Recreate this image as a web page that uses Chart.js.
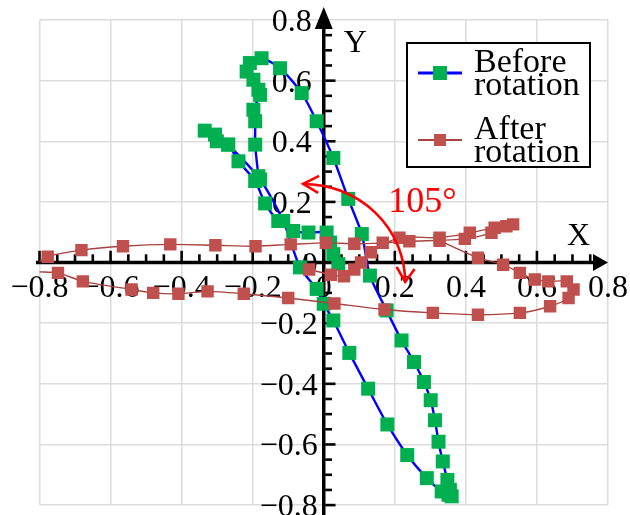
<!DOCTYPE html>
<html>
<head>
<meta charset="utf-8">
<script src="https://cdn.jsdelivr.net/npm/chart.js@4.4.1/dist/chart.umd.min.js"></script>
<style>
  html, body { margin: 0; padding: 0; background: #ffffff; }
  #wrap { width: 630px; height: 515px; }
  canvas { display: block; }
</style>
</head>
<body>
<div id="wrap"><canvas id="chart" width="630" height="515"></canvas></div>
<script>
// Series names (two-line legend entries)
const beforeName = ['Before', 'rotation'];
const afterName = ['After', 'rotation'];

// Trajectory before rotation (in drawing order)
const beforeX = [0.041, 0.027, 0.018, 0.008, -0.043, -0.086, -0.128, -0.165, -0.193, -0.240,
  -0.269, -0.301, -0.335, -0.306, -0.269, -0.179, -0.114, -0.067, -0.020, 0.000,
  0.027, 0.072, 0.125, 0.179, 0.235, 0.290, 0.332, 0.351, 0.360, 0.355,
  0.348, 0.335, 0.323, 0.313, 0.301, 0.282, 0.254, 0.219, 0.177, 0.130,
  0.107, 0.069, 0.027, -0.020, -0.062, -0.123, -0.175, -0.208, -0.217, -0.198,
  -0.184, -0.179, -0.198, -0.193, -0.193, -0.184];
const beforeY = [-0.005, 0.028, 0.066, 0.099, 0.099, 0.104, 0.137, 0.195, 0.269, 0.334,
  0.389, 0.400, 0.435, 0.422, 0.389, 0.274, 0.137, -0.016, -0.087, -0.136,
  -0.191, -0.298, -0.416, -0.534, -0.635, -0.711, -0.755, -0.766, -0.771, -0.750,
  -0.717, -0.656, -0.591, -0.520, -0.454, -0.394, -0.328, -0.257, -0.158, -0.043,
  0.094, 0.210, 0.345, 0.466, 0.559, 0.641, 0.674, 0.658, 0.630, 0.603,
  0.570, 0.553, 0.504, 0.466, 0.389, 0.285];

// Trajectory after rotation (in drawing order); it leaves the window briefly at the far left
const afterX = [-0.041, 0.020, 0.057, 0.086, 0.105, 0.133, 0.213, 0.326, 0.411, 0.481,
  0.533, 0.514, 0.472, 0.397, 0.241, 0.166, 0.086, 0.006, -0.093, -0.192,
  -0.305, -0.432, -0.565, -0.682, -0.777, -0.830, -0.748, -0.678, -0.541, -0.480,
  -0.409, -0.327, -0.225, -0.100, 0.030, 0.171, 0.307, 0.434, 0.552, 0.637,
  0.689, 0.703, 0.684, 0.632, 0.594, 0.552, 0.505, 0.434, 0.326];
const afterY = [-0.023, -0.040, -0.045, -0.023, 0.000, 0.034, 0.082, 0.082, 0.098, 0.115,
  0.126, 0.120, 0.098, 0.078, 0.070, 0.065, 0.062, 0.065, 0.060, 0.054,
  0.057, 0.060, 0.054, 0.041, 0.019, -0.026, -0.034, -0.062, -0.089, -0.100,
  -0.103, -0.095, -0.103, -0.117, -0.135, -0.155, -0.166, -0.172, -0.166, -0.144,
  -0.117, -0.089, -0.062, -0.062, -0.056, -0.034, -0.007, 0.016, 0.072];

// Axis ticks and their labels
const axisTicks = [-0.8, -0.6, -0.4, -0.2, 0, 0.2, 0.4, 0.6, 0.8];
const axisTickLabels = ['\u22120.8', '\u22120.6', '\u22120.4', '\u22120.2', '0', '0.2', '0.4', '0.6', '0.8'];
const xAxisName = 'X';
const yAxisName = 'Y';
const angleText = '105\u00B0';

const SERIF = '"Liberation Serif", "Times New Roman", serif';
const GREEN = '#00B050', BLUE = '#0000FF', BRICK = '#C0504D', BRICK_LINE = '#A8433F';

const toPoints = (xs, ys) => xs.map((v, i) => ({ x: v, y: ys[i] }));
const insideRadius = r => ctx => (ctx.raw && Math.abs(ctx.raw.x) > 0.8 ? 0 : r);

// Axes through the origin, with arrowheads, ticks and numeric labels
const originAxes = {
  id: 'originAxes',
  beforeDatasetsDraw(chart) {
    const { ctx, scales: { x, y } } = chart;
    const ox = x.getPixelForValue(0), oy = y.getPixelForValue(0);
    const xLeft = x.getPixelForValue(-0.81), xTip = x.getPixelForValue(0.8);
    const yTip = y.getPixelForValue(0.8) - 13;
    ctx.save();
    ctx.strokeStyle = '#000';
    ctx.fillStyle = '#000';
    ctx.lineWidth = 3.5;
    ctx.lineCap = 'butt';
    // horizontal axis
    ctx.beginPath();
    ctx.moveTo(xLeft, oy);
    ctx.lineTo(xTip - 14, oy);
    ctx.stroke();
    ctx.beginPath();
    ctx.moveTo(xTip, oy);
    ctx.lineTo(xTip - 15, oy - 8.5);
    ctx.lineTo(xTip - 15, oy + 8.5);
    ctx.closePath();
    ctx.fill();
    // vertical axis
    ctx.beginPath();
    ctx.moveTo(ox, chart.height);
    ctx.lineTo(ox, yTip + 20);
    ctx.stroke();
    ctx.beginPath();
    ctx.moveTo(ox, yTip);
    ctx.lineTo(ox - 9, yTip + 22);
    ctx.lineTo(ox + 9, yTip + 22);
    ctx.closePath();
    ctx.fill();
    // tick marks every 0.05, longer at every 0.2
    ctx.lineWidth = 2.6;
    for (let i = -16; i < 16; i++) {
      const v = i * 0.05;
      const len = (i % 4 === 0) ? 10 : 6.5;
      const px = x.getPixelForValue(v);
      ctx.beginPath();
      ctx.moveTo(px, oy - 1.5);
      ctx.lineTo(px, oy - 1.75 - len);
      ctx.stroke();
      const py = y.getPixelForValue(v);
      ctx.beginPath();
      ctx.moveTo(ox + 1.5, py);
      ctx.lineTo(ox + 1.75 + len, py);
      ctx.stroke();
    }
    // numeric labels
    ctx.font = '32px ' + SERIF;
    ctx.textBaseline = 'alphabetic';
    axisTicks.forEach((v, i) => {
      ctx.textAlign = 'center';
      ctx.fillText(axisTickLabels[i], x.getPixelForValue(v), oy + 34.5);
      ctx.textAlign = 'right';
      const rx = v > 0 ? ox - 12 : ox - 6;
      ctx.fillText(axisTickLabels[i], rx, y.getPixelForValue(v) + 11);
    });
    // axis names
    ctx.textAlign = 'left';
    ctx.fillText(yAxisName, ox + 20, y.getPixelForValue(0.8) + 32);
    ctx.fillText(xAxisName, xTip - 41, oy - 18);
    ctx.restore();
  }
};

// Rotation angle marker and the legend box
const overlays = {
  id: 'overlays',
  afterDatasetsDraw(chart) {
    const { ctx, chartArea, scales: { x, y } } = chart;
    ctx.save();
    // double-headed arc showing the rotation angle
    const cx = x.getPixelForValue(-0.058), cy = y.getPixelForValue(-0.064);
    const rx = 102, ry = 98;
    ctx.strokeStyle = '#FF0000';
    ctx.fillStyle = '#FF0000';
    ctx.lineWidth = 2.6;
    ctx.lineJoin = 'miter';
    ctx.beginPath();
    ctx.ellipse(cx, cy, rx, ry, 0, -Math.PI / 2, 0);
    ctx.stroke();
    const t1x = cx, t1y = cy - ry;
    ctx.beginPath();
    ctx.moveTo(t1x + 16, t1y - 8);
    ctx.lineTo(t1x, t1y);
    ctx.lineTo(t1x + 15, t1y + 9);
    ctx.stroke();
    const t2x = cx + rx, t2y = cy;
    ctx.beginPath();
    ctx.moveTo(t2x - 8.5, t2y - 15);
    ctx.lineTo(t2x, t2y);
    ctx.lineTo(t2x + 9.5, t2y - 13);
    ctx.stroke();
    ctx.font = '36px ' + SERIF;
    ctx.textAlign = 'left';
    ctx.textBaseline = 'alphabetic';
    ctx.fillText(angleText, cx + 85, cy - 70);

    // legend
    const bx = chartArea.right - 201, by = chartArea.top + 23, bw = 183, bh = 124;
    ctx.fillStyle = '#ffffff';
    ctx.fillRect(bx, by, bw, bh);
    ctx.strokeStyle = '#000';
    ctx.lineWidth = 2;
    ctx.strokeRect(bx, by, bw, bh);
    const entries = chart.data.datasets.slice().sort((a, b) => a.legendRank - b.legendRank);
    entries.forEach((ds, k) => {
      const ly = by + 30 + k * 67;
      ctx.strokeStyle = ds.borderColor;
      ctx.lineWidth = ds.borderWidth + 0.5;
      ctx.beginPath();
      ctx.moveTo(bx + 11, ly);
      ctx.lineTo(bx + 55, ly);
      ctx.stroke();
      const s = ds.legendMarker;
      ctx.fillStyle = ds.pointBackgroundColor;
      ctx.fillRect(bx + 33 - s / 2, ly - s / 2, s, s);
      ctx.fillStyle = '#000';
      ctx.font = '34px ' + SERIF;
      ctx.textAlign = 'left';
      ds.label.forEach((line, j) => {
        ctx.fillText(line, bx + 67, ly - 1 + j * 23);
      });
    });
    ctx.restore();
  }
};

const gridOpts = { color: '#dcdcdc', lineWidth: 1.5, drawTicks: false };

new Chart(document.getElementById('chart'), {
  type: 'scatter',
  data: {
    datasets: [
      {
        label: afterName,
        data: toPoints(afterX, afterY),
        showLine: true,
        borderColor: BRICK_LINE,
        borderWidth: 1.4,
        tension: 0.25,
        pointStyle: 'rect',
        pointRadius: insideRadius(8.8),
        pointBackgroundColor: BRICK,
        pointBorderColor: BRICK,
        pointBorderWidth: 0,
        clip: { left: 0, right: 12, top: 12, bottom: 12 },
        order: 0,
        legendRank: 1,
        legendMarker: 12
      },
      {
        label: beforeName,
        data: toPoints(beforeX, beforeY),
        showLine: true,
        borderColor: BLUE,
        borderWidth: 2.4,
        tension: 0.25,
        pointStyle: 'rect',
        pointRadius: 9.9,
        pointBackgroundColor: GREEN,
        pointBorderColor: GREEN,
        pointBorderWidth: 0,
        clip: false,
        order: 1,
        legendRank: 0,
        legendMarker: 14
      }
    ]
  },
  options: {
    responsive: false,
    devicePixelRatio: 1,
    animation: false,
    layout: { padding: { left: 39.5, right: 22, top: 20, bottom: 8 } },
    plugins: { legend: { display: false }, tooltip: { enabled: false } },
    events: [],
    scales: {
      x: {
        type: 'linear', min: -0.8, max: 0.8,
        ticks: { display: false, stepSize: 0.2 },
        grid: gridOpts,
        border: { display: false }
      },
      y: {
        type: 'linear', min: -0.8, max: 0.8,
        ticks: { display: false, stepSize: 0.2 },
        grid: gridOpts,
        border: { display: false }
      }
    }
  },
  plugins: [originAxes, overlays]
});
</script>
</body>
</html>
